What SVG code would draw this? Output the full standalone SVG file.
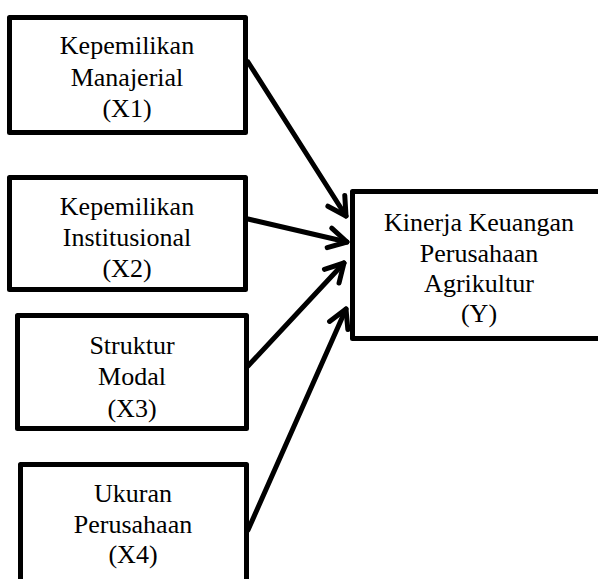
<svg xmlns="http://www.w3.org/2000/svg" width="598" height="579" viewBox="0 0 598 579">
<style>
.box{fill:#fff;stroke:#000;stroke-width:5;stroke-linejoin:round}
.t{font-size:26px;fill:#000;text-anchor:middle}
.c{fill:none;stroke:#000;stroke-width:5;stroke-linecap:round;stroke-linejoin:round}
</style>
<defs>
<marker id="ah" markerUnits="userSpaceOnUse" markerWidth="30" markerHeight="30" refX="22" refY="12" orient="auto" viewBox="0 0 30 24">
<path d="M4,2 L22,12 L4,22" fill="none" stroke="#000" stroke-width="5" stroke-linecap="round" stroke-linejoin="round"/>
</marker>
</defs>
<rect width="598" height="579" fill="#fff"/>
<g id="connectors">
<line class="c" x1="248" y1="62" x2="346" y2="216" marker-end="url(#ah)"/>
<line class="c" x1="248" y1="219" x2="347" y2="242" marker-end="url(#ah)"/>
<line class="c" x1="248" y1="366" x2="344" y2="263" marker-end="url(#ah)"/>
<line class="c" x1="248" y1="530" x2="346" y2="309" marker-end="url(#ah)"/>
</g>
<g font-family="Liberation Serif">
<g id="x1">
<rect class="box" x="9.5" y="17.5" width="236" height="115"/>
<text class="t" font-family="Liberation Serif" x="127" y="54">Kepemilikan</text>
<text class="t" font-family="Liberation Serif" x="127" y="86">Manajerial</text>
<text class="t" font-family="Liberation Serif" x="127" y="117">(X1)</text>
</g>
<g id="x2">
<rect class="box" x="9.5" y="177.5" width="236" height="112"/>
<text class="t" font-family="Liberation Serif" x="127" y="215">Kepemilikan</text>
<text class="t" font-family="Liberation Serif" x="127" y="246">Institusional</text>
<text class="t" font-family="Liberation Serif" x="127" y="277">(X2)</text>
</g>
<g id="x3">
<rect class="box" x="17.5" y="315.5" width="229" height="113"/>
<text class="t" font-family="Liberation Serif" x="132" y="354">Struktur</text>
<text class="t" font-family="Liberation Serif" x="132" y="385">Modal</text>
<text class="t" font-family="Liberation Serif" x="132" y="417">(X3)</text>
</g>
<g id="x4">
<rect class="box" x="20.5" y="464.5" width="226" height="130"/>
<text class="t" font-family="Liberation Serif" x="133" y="502">Ukuran</text>
<text class="t" font-family="Liberation Serif" x="133" y="533">Perusahaan</text>
<text class="t" font-family="Liberation Serif" x="133" y="563">(X4)</text>
</g>
<g id="y">
<rect class="box" x="352.5" y="191.5" width="260" height="147"/>
<text class="t" font-family="Liberation Serif" x="479" y="231">Kinerja Keuangan</text>
<text class="t" font-family="Liberation Serif" x="479" y="262">Perusahaan</text>
<text class="t" font-family="Liberation Serif" x="479" y="292">Agrikultur</text>
<text class="t" font-family="Liberation Serif" x="479" y="322">(Y)</text>
</g>
</g>
</svg>
